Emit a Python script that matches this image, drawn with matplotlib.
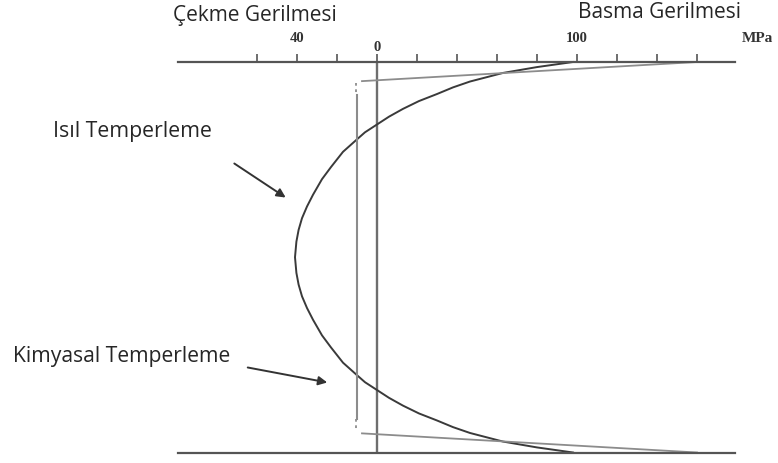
import matplotlib.pyplot as plt
import numpy as np

# stress profile through the glass thickness (MPa, + = compression)
# depth runs 0 (top surface) .. 1 (bottom surface); half profile, mirrored below
thermal_depth = [0.0, 0.013, 0.028, 0.05, 0.065, 0.082, 0.10, 0.12, 0.14, 0.16, 0.18,
                 0.198, 0.23, 0.269, 0.30, 0.34, 0.37, 0.40, 0.43, 0.46, 0.5]
thermal_stress = [98, 80, 63, 46.5, 38, 30, 21, 13, 6, 0, -6,
                  -10, -17, -23, -27.5, -32, -35, -37.5, -39.2, -40.3, -41]

# chemical tempering: thin high-compression layer, small uniform tension inside
chem_depth = [0.0, 0.049]
chem_stress = [160, -7.5]
chem_core_stress = -10
chem_core_depth = [0.085, 0.915]

tick_values = [-60, -40, -20, 0, 20, 40, 60, 80, 100, 120, 140, 160]
tick_labels = {-40: "40", 0: "0", 100: "100"}

W, H = 778, 463
fig = plt.figure(figsize=(W / 100, H / 100), dpi=100)
ax = fig.add_axes([178 / W, (H - 452.5) / H, (735 - 178) / W, 390.5 / H])
ax.set_xlim(-99.5, 179)
ax.set_ylim(1, 0)
ax.set_facecolor("none")

axis_col = "#555555"
for s in ["left", "right"]:
    ax.spines[s].set_visible(False)
for s in ["top", "bottom"]:
    ax.spines[s].set_color(axis_col)
    ax.spines[s].set_linewidth(1.6)
ax.xaxis.set_ticks_position("top")
ax.set_xticks(tick_values)
ax.set_xticklabels([])
ax.tick_params(axis="x", direction="out", length=6, width=1.2, color=axis_col)
ax.set_yticks([])

# zero line
ax.plot([0, 0], [0, 1], color="#6e6e6e", lw=1.7, solid_capstyle="butt")

# thermal tempering curve (mirror the half profile)
d = np.array(thermal_depth)
s = np.array(thermal_stress)
full_d = np.concatenate([d, 1 - d[::-1][1:]])
full_s = np.concatenate([s, s[::-1][1:]])
ax.plot(full_s, full_d, color="#3a3a3a", lw=1.4, clip_on=False, solid_joinstyle="round")

# chemical tempering profile
gray = "#8c8c8c"
cd = np.array(chem_depth)
ax.plot(chem_stress, cd, color=gray, lw=1.3, clip_on=False)
ax.plot(chem_stress, 1 - cd, color=gray, lw=1.3, clip_on=False)
ax.plot([chem_core_stress] * 2, chem_core_depth, color=gray, lw=1.5)
ax.plot([chem_core_stress - 0.5] * 2, [0.054, chem_core_depth[0]], color=gray, lw=1.3, ls=(0, (1.5, 2)))
ax.plot([chem_core_stress - 0.5] * 2, [chem_core_depth[1], 0.946], color=gray, lw=1.3, ls=(0, (1.5, 2)))

# scale labels
serif = ["Liberation Serif", "DejaVu Serif"]
for v, lab in tick_labels.items():
    yy = -0.036 if v == 0 else -0.061
    ax.text(v, yy, lab, ha="center", va="center", fontsize=10.5, fontweight="bold",
            family=serif, color="#333333", clip_on=False)
ax.text(190, -0.061, "MPa", ha="center", va="center", fontsize=11, fontweight="bold",
        family=serif, color="#333333", clip_on=False)

sans = ["Open Sans", "DejaVu Sans"]
txt = "#262626"
ax.text(-61, -0.118, "Çekme Gerilmesi", ha="center", va="center", fontsize=15,
        family=sans, color=txt, clip_on=False)
ax.text(141.5, -0.128, "Basma Gerilmesi", ha="center", va="center", fontsize=15,
        family=sans, color=txt, clip_on=False)
ax.text(-122.25, 0.179, "Isıl Temperleme", ha="center", va="center", fontsize=15.3,
        family=sans, color=txt, clip_on=False)
ax.text(-127.75, 0.755, "Kimyasal Temperleme", ha="center", va="center", fontsize=15.2,
        family=sans, color=txt, clip_on=False)

arrow = dict(arrowstyle="-|>", color="#333333", lw=1.4, mutation_scale=13)
ax.annotate("", xy=(-44.5, 0.351), xytext=(-72.5, 0.256), arrowprops=arrow, annotation_clip=False)
ax.annotate("", xy=(-23.5, 0.822), xytext=(-66, 0.781), arrowprops=arrow, annotation_clip=False)

fig.savefig("out.png", dpi=100, facecolor="white")
